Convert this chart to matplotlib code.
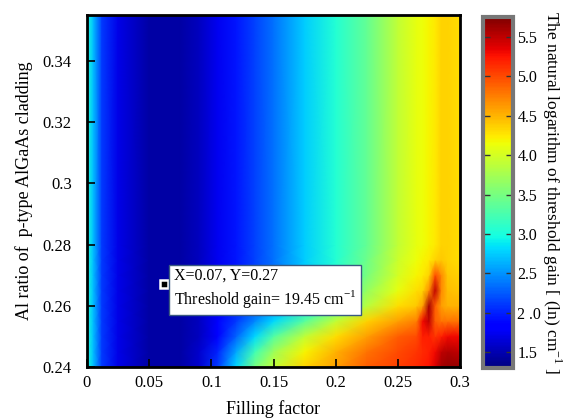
import numpy as np
import matplotlib
matplotlib.use('Agg')
import matplotlib.pyplot as plt

# grid (filling factor x Al ratio), values = ln(threshold gain)
fill = [0, 0.005, 0.012, 0.025, 0.05, 0.075, 0.09, 0.105, 0.12, 0.135, 0.15, 0.175,
        0.2, 0.225, 0.25, 0.265, 0.27, 0.275, 0.28, 0.285, 0.29, 0.3]
al_ratio = [0.24, 0.245, 0.25, 0.255, 0.26, 0.265, 0.27, 0.275, 0.28, 0.355]
ln_gain = [
    # 0.24
    [3.0, 2.7, 2.1, 1.7, 1.45, 1.45, 1.6, 2.1, 2.8, 3.5, 3.9, 4.35, 4.6, 4.9, 5.05, 5.15, 5.2, 5.25, 5.4, 5.6, 5.65, 5.65],
    # 0.245
    [3.0, 2.7, 2.1, 1.7, 1.45, 1.45, 1.6, 2.0, 2.6, 3.2, 3.7, 4.2, 4.5, 4.8, 5.0, 5.1, 5.15, 5.2, 5.3, 5.5, 5.55, 5.5],
    # 0.25
    [3.0, 2.7, 2.1, 1.7, 1.45, 1.45, 1.55, 1.85, 2.3, 2.8, 3.3, 3.9, 4.3, 4.6, 4.9, 5.0, 5.2, 5.2, 5.1, 5.2, 5.3, 5.3],
    # 0.255
    [3.0, 2.7, 2.1, 1.7, 1.45, 1.45, 1.55, 1.8, 2.1, 2.45, 2.8, 3.35, 3.9, 4.35, 4.6, 4.75, 5.3, 5.5, 4.9, 4.8, 4.8, 4.8],
    # 0.26
    [3.0, 2.7, 2.1, 1.7, 1.45, 1.45, 1.55, 1.75, 2.0, 2.25, 2.5, 2.9, 3.35, 3.85, 4.3, 4.4, 4.6, 5.6, 4.9, 4.6, 4.5, 4.5],
    # 0.265
    [3.0, 2.7, 2.1, 1.7, 1.45, 1.45, 1.55, 1.75, 1.95, 2.2, 2.4, 2.8, 3.2, 3.65, 4.1, 4.3, 4.35, 4.7, 5.5, 4.7, 4.45, 4.4],
    # 0.27
    [3.0, 2.7, 2.1, 1.7, 1.45, 1.45, 1.55, 1.75, 1.95, 2.15, 2.35, 2.75, 3.1, 3.5, 4.0, 4.2, 4.25, 4.35, 5.0, 4.7, 4.4, 4.35],
    # 0.275
    [3.0, 2.7, 2.1, 1.7, 1.45, 1.45, 1.55, 1.75, 1.95, 2.15, 2.35, 2.75, 3.05, 3.45, 3.95, 4.15, 4.2, 4.25, 4.35, 4.4, 4.35, 4.3],
    # 0.28
    [3.0, 2.7, 2.1, 1.7, 1.45, 1.45, 1.55, 1.75, 1.95, 2.15, 2.35, 2.75, 3.05, 3.4, 3.9, 4.1, 4.15, 4.2, 4.25, 4.35, 4.35, 4.3],
    # 0.355
    [3.0, 2.7, 2.1, 1.7, 1.45, 1.45, 1.55, 1.75, 1.95, 2.15, 2.35, 2.75, 3.05, 3.4, 3.9, 4.1, 4.15, 4.2, 4.25, 4.35, 4.35, 4.3],
]

x_ticks = [0, 0.05, 0.1, 0.15, 0.2, 0.25, 0.3]
x_labels = ['0', '0.05', '0.1', '0.15', '0.2', '0.25', '0.3']
y_ticks = [0.24, 0.26, 0.28, 0.3, 0.32, 0.34]
y_labels = ['0.24', '0.26', '0.28', '0.3', '0.32', '0.34']
cb_ticks = [1.5, 2.0, 2.5, 3.0, 3.5, 4.0, 4.5, 5.0, 5.5]
cb_labels = ['1.5', '2 .0', '2.5', '3.0', '3.5', '4.0', '4.5', '5.0', '5.5']

# picked point
pick_x, pick_y = 0.062, 0.267
pick_text = 'X=0.07, Y=0.27\nThreshold gain= 19.45 cm$^{-1}$'

plt.rcParams['font.family'] = ['Liberation Serif', 'DejaVu Serif']
plt.rcParams['mathtext.fontset'] = 'custom'
plt.rcParams['mathtext.rm'] = 'Liberation Serif'

fig = plt.figure(figsize=(5.78, 4.19), dpi=100)
ax = fig.add_axes([0.1505, 0.124, 0.6455, 0.840])
cax = fig.add_axes([0.836, 0.122, 0.052, 0.837])

X, Y = np.meshgrid(fill, al_ratio)
mesh = ax.pcolormesh(X, Y, np.array(ln_gain), cmap='jet', shading='gouraud', vmin=1.3, vmax=5.75)

ax.set_xlim(0, 0.3)
ax.set_ylim(0.24, 0.355)
ax.set_xticks(x_ticks)
ax.set_xticklabels(x_labels)
ax.set_yticks(y_ticks)
ax.set_yticklabels(y_labels)
ax.tick_params(direction='in', length=6, width=1.2, labelsize=12)
ax.tick_params(axis='x', pad=6)
ax.tick_params(axis='y', pad=11)
for s in ax.spines.values():
    s.set_linewidth(2)
ax.set_xlabel('Filling factor', fontsize=13, labelpad=6)
ax.set_ylabel('Al ratio of  p-type AlGaAs cladding', fontsize=13, labelpad=7)

# marker + data tip box
ax.plot(pick_x, pick_y, marker='s', ms=6, mfc='black', mec='white', mew=1.8)
ax.text(pick_x + 0.008, pick_y - 0.0015, pick_text, fontsize=11.5, va='center', ha='left',
        linespacing=1.25,
        bbox=dict(boxstyle='square,pad=0.3', fc='white', ec='#3a5a80', lw=1))

cb = fig.colorbar(mesh, cax=cax)
cb.set_ticks(cb_ticks)
cb.set_ticklabels(cb_labels)
cax.tick_params(direction='in', length=5, width=1, color='#333333', labelsize=11.5,
                left=True, right=True, pad=3)
cb.outline.set_edgecolor('#777777')
cb.outline.set_linewidth(3)
cb.set_label('The natural logarithm of threshold gain [ (ln) cm$^{-1}$ ]', fontsize=12.5,
             rotation=-90, labelpad=16)

fig.savefig('out.png', dpi=100)
